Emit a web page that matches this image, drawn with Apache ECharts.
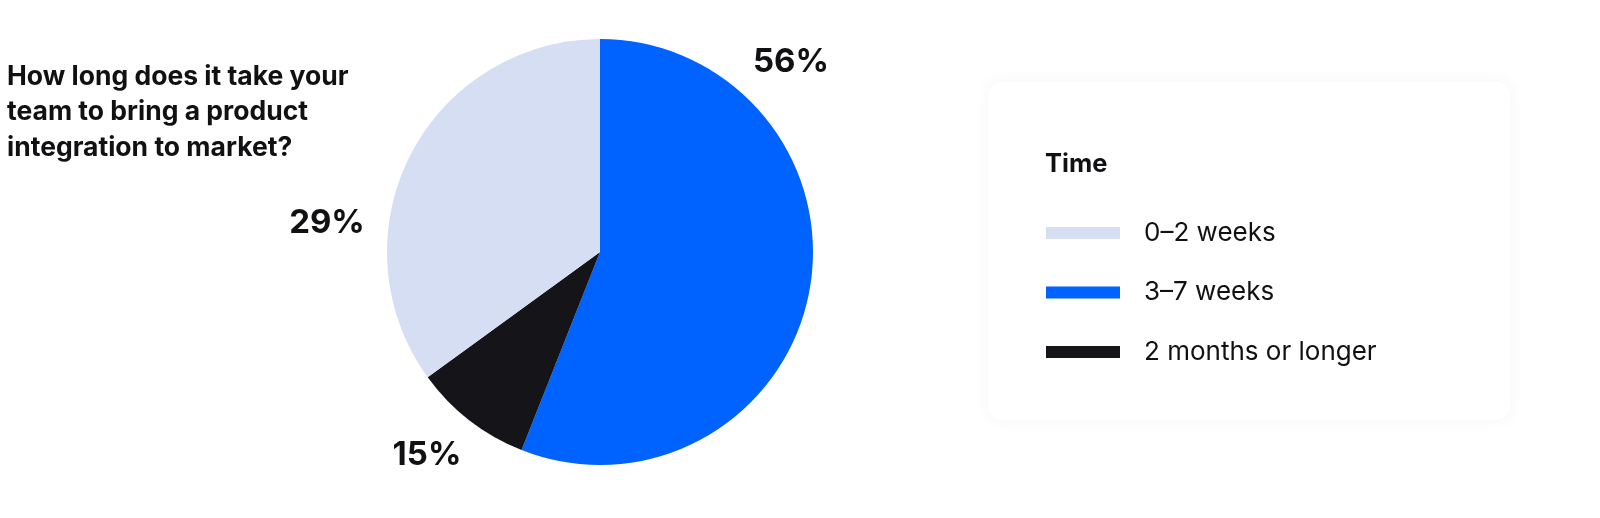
<!DOCTYPE html>
<html>
<head>
<meta charset="utf-8">
<script src="https://cdn.jsdelivr.net/npm/echarts@6/dist/echarts.min.js"></script>
<style>
html,body{margin:0;padding:0;background:#ffffff;}
#chart{width:1600px;height:518px;}
</style>
</head>
<body>
<div id="chart"></div>
<script>
// Data (slice order: clockwise from 12 o'clock)
const categories = ['3–7 weeks', '2 months or longer', '0–2 weeks'];
const values = [56, 9, 35];
const valueLabels = ['56%', '15%', '29%'];
const legendOrder = ['0–2 weeks', '3–7 weeks', '2 months or longer'];
const colors = ['#0062ff', '#141419', '#d6def3'];
const questionText = 'How long does it take your\nteam to bring a product\nintegration to market?';
const legendTitle = 'Time';

const FONT = 'Inter, "Noto Sans", sans-serif';
const labelSpots = [
  { x: 791, y: 62 },
  { x: 427, y: 455 },
  { x: 327, y: 223 }
];

const chart = echarts.init(document.getElementById('chart'), null, { renderer: 'canvas' });
chart.setOption({
  backgroundColor: '#ffffff',
  animation: false,
  title: [
    {
      text: questionText,
      left: 7,
      top: 59,
      padding: 0,
      textStyle: { fontFamily: FONT, fontSize: 26.5, fontWeight: 700, color: '#111114', lineHeight: 35.5 }
    },
    {
      text: legendTitle,
      left: 1045,
      top: 151,
      padding: 0,
      textStyle: { fontFamily: FONT, fontSize: 25.5, fontWeight: 700, color: '#111114' }
    }
  ],
  graphic: [
    {
      type: 'rect',
      z: -1,
      shape: { x: 988, y: 82, width: 522, height: 338, r: 14 },
      style: { fill: '#ffffff', shadowBlur: 14, shadowColor: 'rgba(110,70,150,0.07)', shadowOffsetX: 0, shadowOffsetY: 0 }
    }
  ],
  legend: {
    orient: 'vertical',
    left: 1046,
    top: 220,
    padding: 0,
    icon: 'rect',
    itemWidth: 74,
    itemHeight: 12,
    itemGap: 33.5,
    data: legendOrder,
    selectedMode: false,
    textStyle: { fontFamily: FONT, fontSize: 26, color: '#111114', lineHeight: 24, padding: [0, 0, 0, 19] }
  },
  series: [
    {
      type: 'pie',
      center: [600, 252],
      radius: 213,
      startAngle: 90,
      clockwise: true,
      avoidLabelOverlap: false,
      silent: true,
      itemStyle: { borderWidth: 0 },
      label: {
        show: true,
        position: 'outside',
        formatter: p => valueLabels[p.dataIndex],
        fontFamily: FONT,
        fontSize: 33,
        fontWeight: 700,
        color: '#111114'
      },
      labelLine: { show: false },
      labelLayout: p => ({
        x: labelSpots[p.dataIndex].x,
        y: labelSpots[p.dataIndex].y,
        align: 'center',
        verticalAlign: 'middle'
      }),
      data: categories.map((c, i) => ({ name: c, value: values[i], itemStyle: { color: colors[i] } }))
    }
  ]
});
</script>
</body>
</html>
